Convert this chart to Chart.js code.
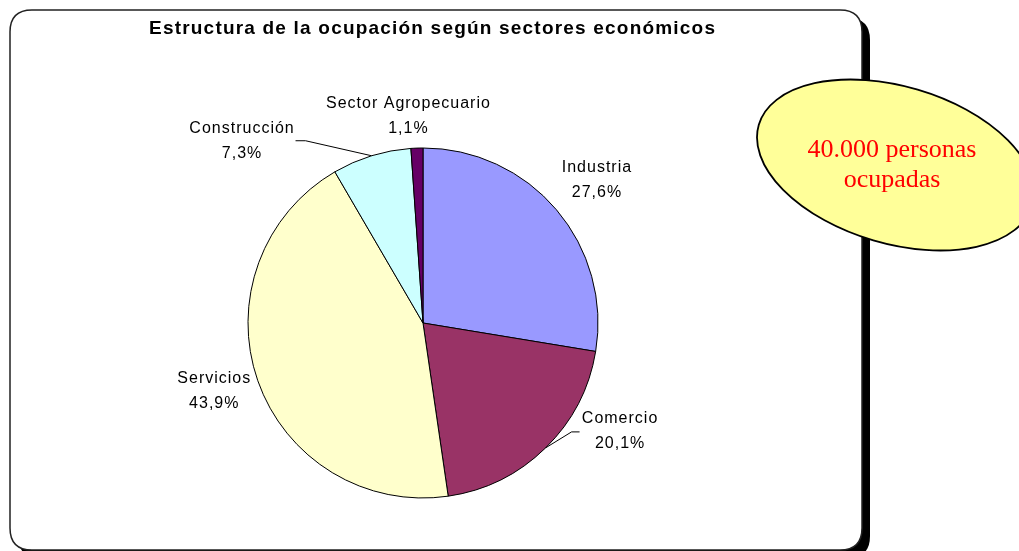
<!DOCTYPE html>
<html>
<head>
<meta charset="utf-8">
<script src="https://cdn.jsdelivr.net/npm/chart.js@4.4.0/dist/chart.umd.min.js"></script>
<style>
html,body{margin:0;padding:0;background:#fff;}
#wrap{position:relative;width:1019px;height:551px;}
</style>
</head>
<body>
<div id="wrap"><canvas id="c" width="1019" height="551"></canvas></div>
<script>
const categories = ['Industria', 'Comercio', 'Servicios', 'Construcción', 'Sector Agropecuario'];
const values = [27.6, 20.1, 43.9, 7.3, 1.1];
const colors = ['#9999FF', '#993366', '#FFFFCC', '#CCFFFF', '#660066'];
const titleText = 'Estructura de la ocupación según sectores económicos';
const calloutLines = ['40.000 personas', 'ocupadas'];

// label placement relative to the slice's outer-arc midpoint (style only)
const labelOffsets = [[40, -31], [74, -18], [-44, 9], [-130, -16], [-9, -34]];
// leader lines: [elbow, end] relative to label centre, null if none
const leaders = [null, [[-48, 2], [-40, 2]], null, [[64, 1], [54, 1]], null];

function fmt(v){ return v.toFixed(1).replace('.', ',') + '%'; }

function roundRect(ctx, x, y, w, h, r){
  ctx.beginPath();
  ctx.moveTo(x + r, y);
  ctx.lineTo(x + w - r, y);
  ctx.quadraticCurveTo(x + w, y, x + w, y + r);
  ctx.lineTo(x + w, y + h - r);
  ctx.quadraticCurveTo(x + w, y + h, x + w - r, y + h);
  ctx.lineTo(x + r, y + h);
  ctx.quadraticCurveTo(x, y + h, x, y + h - r);
  ctx.lineTo(x, y + r);
  ctx.quadraticCurveTo(x, y, x + r, y);
  ctx.closePath();
}

function spacedText(ctx, txt, x, y, ls){
  // centred text with letter spacing
  ctx.letterSpacing = ls + 'px';
  const w = ctx.measureText(txt).width - ls;
  ctx.textAlign = 'left';
  ctx.fillText(txt, x - w / 2, y);
  ctx.letterSpacing = '0px';
}

const framePlugin = {
  id: 'frame',
  beforeDraw(chart){
    const ctx = chart.ctx;
    ctx.save();
    ctx.fillStyle = '#fff';
    ctx.fillRect(0, 0, chart.width, chart.height);
    ctx.fillStyle = '#000';
    roundRect(ctx, 18, 18, 852, 540, 22);
    ctx.fill();
    ctx.fillStyle = '#fff';
    ctx.strokeStyle = '#222';
    ctx.lineWidth = 1.5;
    roundRect(ctx, 10, 10, 852, 540, 22);
    ctx.fill();
    ctx.stroke();
    ctx.fillStyle = '#000';
    ctx.font = 'bold 19px "Liberation Sans", Arial, sans-serif';
    ctx.textBaseline = 'alphabetic';
    spacedText(ctx, titleText, 432, 34, 1.2);
    ctx.restore();
  },
  afterDraw(chart){
    const ctx = chart.ctx;
    const meta = chart.getDatasetMeta(0);
    ctx.save();
    ctx.font = '16px "Liberation Sans", Arial, sans-serif';
    ctx.textBaseline = 'alphabetic';
    ctx.fillStyle = '#000';
    ctx.strokeStyle = '#000';
    ctx.lineWidth = 1;
    meta.data.forEach((arc, i) => {
      const p = arc.getProps(['x','y','startAngle','endAngle','outerRadius'], true);
      const mid = (p.startAngle + p.endAngle) / 2;
      const ax = p.x + Math.cos(mid) * p.outerRadius;
      const ay = p.y + Math.sin(mid) * p.outerRadius;
      const lx = ax + labelOffsets[i][0];
      const ly = ay + labelOffsets[i][1];
      spacedText(ctx, categories[i], lx, ly - 6.5, 1);
      spacedText(ctx, fmt(values[i]), lx, ly + 18.5, 1);
      if (leaders[i]) {
        ctx.beginPath();
        ctx.moveTo(ax, ay);
        ctx.lineTo(lx + leaders[i][0][0], ly + leaders[i][0][1]);
        ctx.lineTo(lx + leaders[i][1][0], ly + leaders[i][1][1]);
        ctx.stroke();
      }
    });
    // callout ellipse
    ctx.beginPath();
    ctx.ellipse(895.5, 165, 142.5, 78.6, 16.4 * Math.PI / 180, 0, Math.PI * 2);
    ctx.fillStyle = '#FFFF99';
    ctx.fill();
    ctx.lineWidth = 1.8;
    ctx.strokeStyle = '#000';
    ctx.stroke();
    ctx.fillStyle = '#FF0000';
    ctx.font = '26px "Liberation Serif", "Times New Roman", serif';
    ctx.textAlign = 'center';
    ctx.fillText(calloutLines[0], 892, 157);
    ctx.fillText(calloutLines[1], 892, 187);
    ctx.restore();
  }
};

new Chart(document.getElementById('c'), {
  type: 'pie',
  data: {
    labels: categories,
    datasets: [{
      data: values,
      backgroundColor: colors,
      borderColor: '#000',
      borderWidth: 1,
      borderAlign: 'center'
    }]
  },
  options: {
    responsive: false,
    animation: false,
    radius: 175,
    layout: { padding: { left: 248, right: 421, top: 148, bottom: 53 } },
    plugins: {
      legend: { display: false },
      title: { display: false },
      tooltip: { enabled: false }
    }
  },
  plugins: [framePlugin]
});
</script>
</body>
</html>
